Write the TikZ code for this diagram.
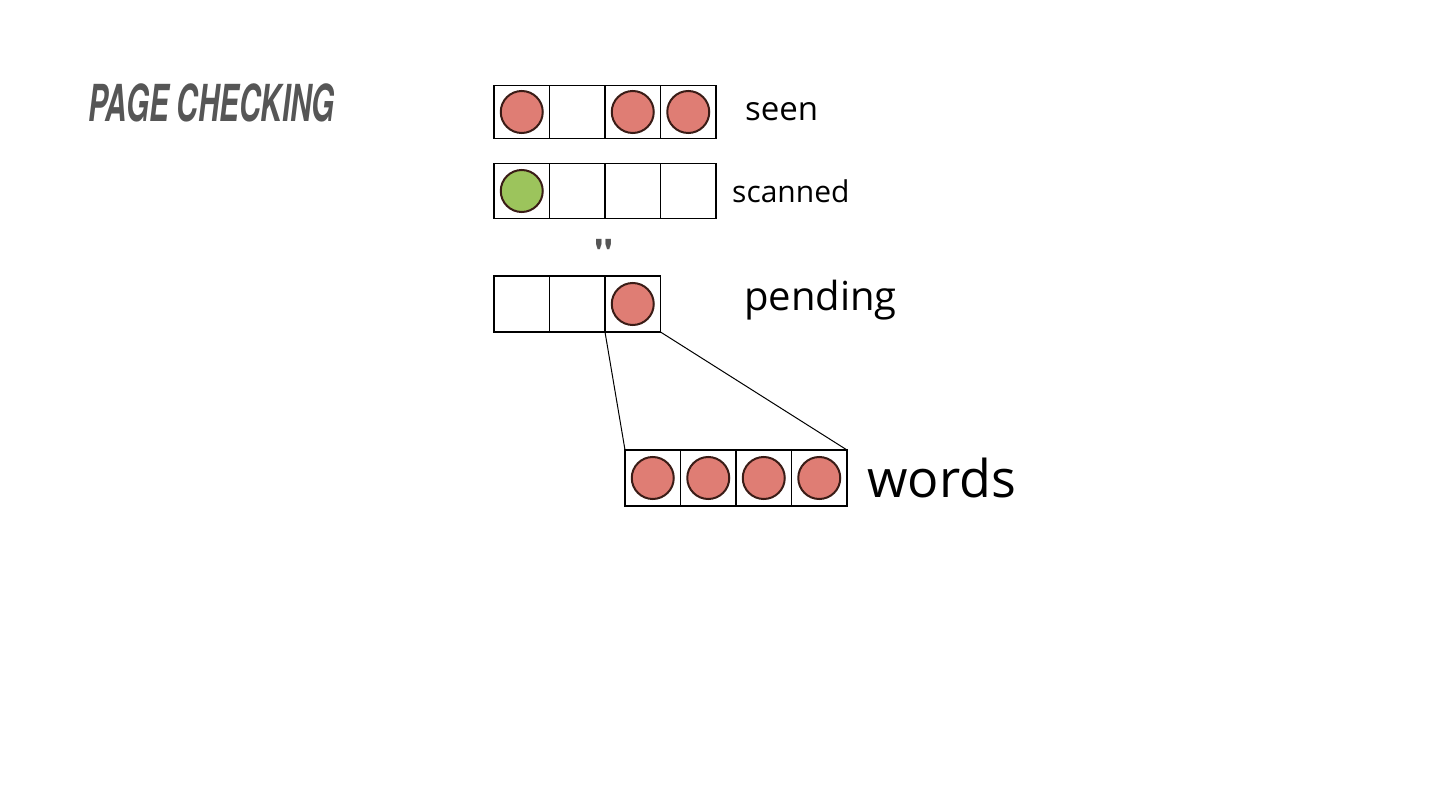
\documentclass[tikz,border=0pt]{standalone}
\usepackage{fontspec}
\setmainfont{Open Sans}
\newfontfamily\titlefont{TeX Gyre Heros}
\usetikzlibrary{positioning}
\definecolor{ballred}{HTML}{DF7D74}
\definecolor{ballgreen}{HTML}{9CC45C}
\definecolor{ballrim}{HTML}{3A1C16}
\definecolor{titlegray}{HTML}{565656}
\tikzset{
  cell/.style={draw=black, line width=1.2pt, minimum width=55.5pt,
    minimum height=55pt, inner sep=0pt, outer sep=0pt},
  redball/.style={circle, draw=ballrim, line width=2pt, fill=ballred,
    minimum size=42pt, inner sep=0pt},
  greenball/.style={redball, fill=ballgreen},
  lbl/.style={anchor=west, inner sep=0pt, text=black}
}

\begin{document}
\begin{tikzpicture}[x=1pt,y=-1pt]
  \useasboundingbox (0,0) rectangle (1440,810);
  \node[anchor=west, inner sep=0pt, text=titlegray] (title) at (88,103)
    {\scalebox{0.58}[1]{\titlefont\fontsize{51}{51}\selectfont\bfseries\itshape PAGE CHECKING}};

  % seen
  \node[cell, minimum height=53pt] (seen1) at (521.75,112) {};
  \foreach \i [evaluate=\i as \j using int(\i-1)] in {2,...,4}
    \node[cell, minimum height=53pt, right=0pt of seen\j] (seen\i) {};
  \foreach \i in {1,3,4}
    \node[redball] (seenball\i) at (seen\i) {};
  \node[lbl, right=29pt of seen4] (seenlbl) {\fontsize{33}{33}\selectfont seen};

  % scanned
  \node[cell] (scanned1) at (521.75,191) {};
  \foreach \i [evaluate=\i as \j using int(\i-1)] in {2,...,4}
    \node[cell, right=0pt of scanned\j] (scanned\i) {};
  \node[greenball] (scannedball1) at (scanned1) {};
  \node[lbl, right=16pt of scanned4] (scannedlbl) {\fontsize{30}{30}\selectfont scanned};

  \node[inner sep=0pt, text=titlegray] (gap) at (604,254)
    {\titlefont\fontsize{40}{40}\selectfont\bfseries "};

  % pending
  \node[cell, minimum height=56pt] (pending1) at (521.75,304) {};
  \foreach \i [evaluate=\i as \j using int(\i-1)] in {2,3}
    \node[cell, minimum height=56pt, right=0pt of pending\j] (pending\i) {};
  \node[redball] (pendingball3) at (pending3) {};
  \node[lbl, anchor=west] (pendinglbl) at (744,300) {\fontsize{40}{40}\selectfont pending};

  % words
  \node[cell, minimum height=56pt] (words1) at (652.75,478) {};
  \foreach \i [evaluate=\i as \j using int(\i-1)] in {2,...,4}
    \node[cell, minimum height=56pt, right=0pt of words\j] (words\i) {};
  \foreach \i in {1,...,4}
    \node[redball] (wordsball\i) at (words\i) {};
  \node[lbl, right=20pt of words4] (wordslbl) {\fontsize{52}{52}\selectfont words};

  \draw[line width=1pt] (pending3.south west) -- (words1.north west);
  \draw[line width=1pt] (pending3.south east) -- (words4.north east);
\end{tikzpicture}
\end{document}
